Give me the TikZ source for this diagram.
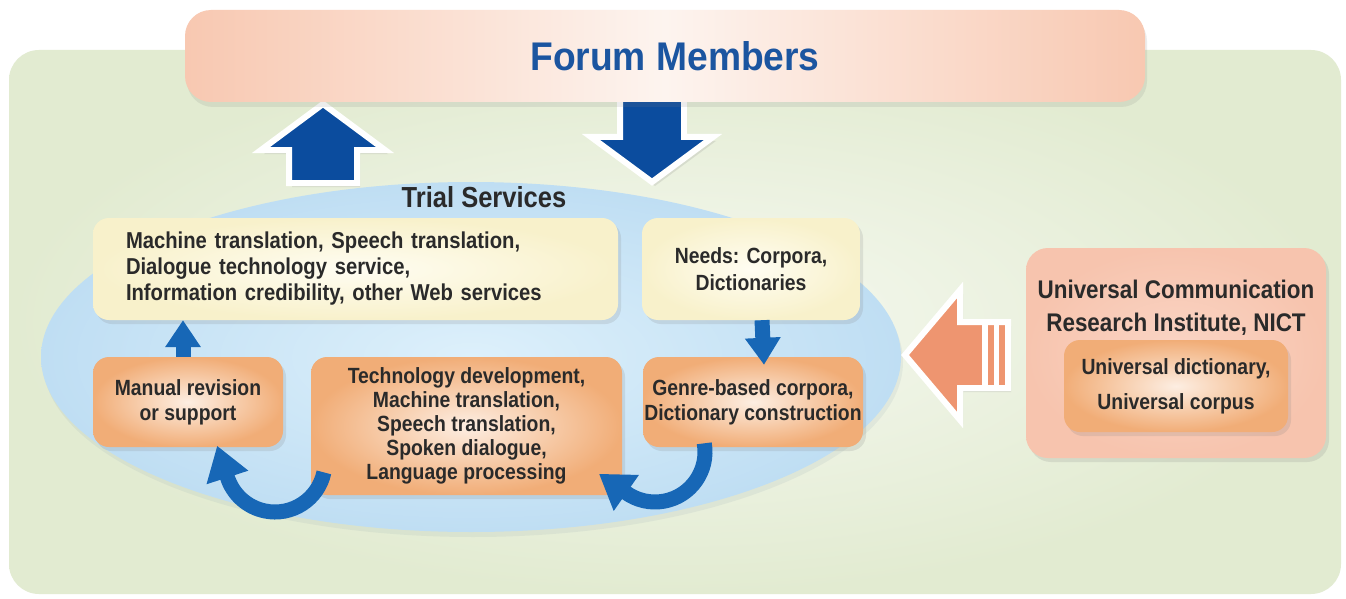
\documentclass[tikz,border=0pt]{standalone}
\usepackage{fontspec}
\setmainfont{Liberation Sans}
\newfontfamily\cond{Liberation Sans}[FakeStretch=0.88]
\newfontfamily\forumf{Liberation Sans}[FakeStretch=0.93]
\usetikzlibrary{shadows,arrows.meta,calc}
\definecolor{bgout}{HTML}{E2EBD1}
\definecolor{bgin}{HTML}{F6F9F1}
\definecolor{forumside}{HTML}{F8C8B1}
\definecolor{forummid}{HTML}{FDF4EF}
\definecolor{forumblue}{HTML}{1B55A0}
\definecolor{ellout}{HTML}{BFDEF3}
\definecolor{ellin}{HTML}{DDF0FB}
\definecolor{yelout}{HTML}{F8F1CB}
\definecolor{yelin}{HTML}{FFFDF2}
\definecolor{orout}{HTML}{F1AD77}
\definecolor{orin}{HTML}{FDEEE2}
\definecolor{salout}{HTML}{F7C4AE}
\definecolor{salin}{HTML}{FAD5C5}
\definecolor{bigblue}{HTML}{0B4C9E}
\definecolor{midblue}{HTML}{1767B6}
\definecolor{arrowor}{HTML}{EE9570}
\definecolor{txt}{HTML}{2A2A2A}
\begin{document}
\begin{tikzpicture}[x=1pt,y=-1pt,
  softshadow/.style={drop shadow={shadow xshift=3pt, shadow yshift=-4pt, opacity=0.18}},
  box/.style={rounded corners=16pt, inner sep=0pt, text=txt, align=center, softshadow},
  yelbox/.style={box, inner color=yelin, outer color=yelout},
  orbox/.style={box, inner color=orin, outer color=orout},
  bodytext/.style={font=\cond\bfseries\fontsize{22}{25}\selectfont},
  bigarrow/.style={fill=bigblue, draw=white, line width=6pt, line join=miter, softshadow},
  smallarrow/.style={midblue, line width=15pt, line cap=butt, -{Triangle[length=27pt,width=34pt]}},
  curvearrow/.style={midblue, line width=15pt, line cap=butt}
]
\useasboundingbox (0,0) rectangle (1346,599);
\fill[white] (0,0) rectangle (1346,599);
% green background
\shade[rounded corners=30pt, inner color=bgin, outer color=bgout] (9,50) rectangle (1341,594);
% blue ellipse
\fill[ellout!70!black, opacity=0.12] (473,362) ellipse [x radius=430, y radius=175];
\shade[inner color=ellin, outer color=ellout] (471,357) ellipse [x radius=430, y radius=175];
% big blue arrows
\filldraw[bigarrow] (323,104) -- (385,150) -- (357,150) -- (357,183) -- (289,183) -- (289,150) -- (261,150) -- cycle;
\filldraw[bigarrow] (620,96) -- (684,96) -- (684,137) -- (713,137) -- (652,182) -- (591,137) -- (620,137) -- cycle;
% forum members
\node[rounded corners=26pt, inner sep=0pt, minimum width=960pt, minimum height=92pt,
      left color=forumside, right color=forumside, middle color=forummid,
      drop shadow={shadow xshift=2pt, shadow yshift=-5pt, opacity=0.15},
      text=forumblue, font=\forumf\bfseries\fontsize{40}{44}\selectfont]
  (forum) at (665,56) {\hspace*{20pt}Forum Members};
% trial services
\node[text=txt, font=\cond\bfseries\fontsize{29}{33}\selectfont] (trial) at (484,197) {Trial Services};
% boxes inside ellipse
\node[yelbox, minimum width=525pt, minimum height=102pt, text width=459pt, inner xsep=33pt, align=left,
      font=\cond\bfseries\fontsize{23}{26}\selectfont]
  (svc) at (355.5,269) {Machine translation, Speech translation,\\Dialogue technology service,\\Information credibility, other Web services};
\node[yelbox, minimum width=218pt, minimum height=102pt, font=\cond\bfseries\fontsize{22}{27}\selectfont]
  (needs) at (751,269) {Needs: Corpora,\\Dictionaries};
\node[orbox, bodytext, minimum width=190pt, minimum height=90pt] (manual) at (188,402) {Manual revision\\or support};
\node[orbox, font=\cond\bfseries\fontsize{22}{24}\selectfont, minimum width=311pt, minimum height=138pt]
  (tech) at (466.5,426) {Technology development,\\Machine translation,\\Speech translation,\\Spoken dialogue,\\Language processing};
\node[orbox, bodytext, minimum width=220pt, minimum height=90pt] (genre) at (753,402) {Genre-based corpora,\\Dictionary construction};
% straight small arrows
\draw[smallarrow] ([xshift=-5pt]manual.north) -- ([xshift=-5pt]manual.north |- svc.south);
\draw[smallarrow] ([xshift=11pt]needs.south) -- ([xshift=11pt,yshift=-8pt]genre.north);
% curved arrows
\coordinate (cl) at (275,462);
\draw[curvearrow] ($(cl)+(12:50)$) arc[start angle=12, end angle=163, radius=50];
\fill[midblue] ($(cl)+(162:28)$) -- ($(cl)+(162:72)$) -- ($(cl)+(162:50)+(252:33)$) -- cycle;
\coordinate (cr) at (655,452);
\draw[curvearrow] ($(cr)+(-10:50)$) arc[start angle=-10, end angle=126, radius=50];
\fill[midblue] ($(cr)+(125:28)$) -- ($(cr)+(125:72)$) -- ($(cr)+(125:50)+(215:33)$) -- cycle;
% UCRI
\node[box, rounded corners=22pt, inner color=salin, outer color=salout, minimum width=300pt, minimum height=210pt] (ucri) at (1176,353) {};
\node[text=txt, align=center, font=\cond\bfseries\fontsize{25.5}{33}\selectfont] (ucrititle) at (1176,308) {Universal Communication\\Research Institute, NICT};
\node[orbox, font=\cond\bfseries\fontsize{22}{35}\selectfont, minimum width=224pt, minimum height=92pt] (univ) at (1176,386) {Universal dictionary,\\Universal corpus};
% big orange arrow
\filldraw[fill=arrowor, draw=white, line width=6pt, line join=miter, softshadow]
  (905,355) -- (960,290) -- (960,322) -- (1008,322) -- (1008,388) -- (960,388) -- (960,420) -- cycle;
\fill[white] (982,322) rectangle (988,388);
\fill[white] (994,322) rectangle (999,388);
\end{tikzpicture}
\end{document}
